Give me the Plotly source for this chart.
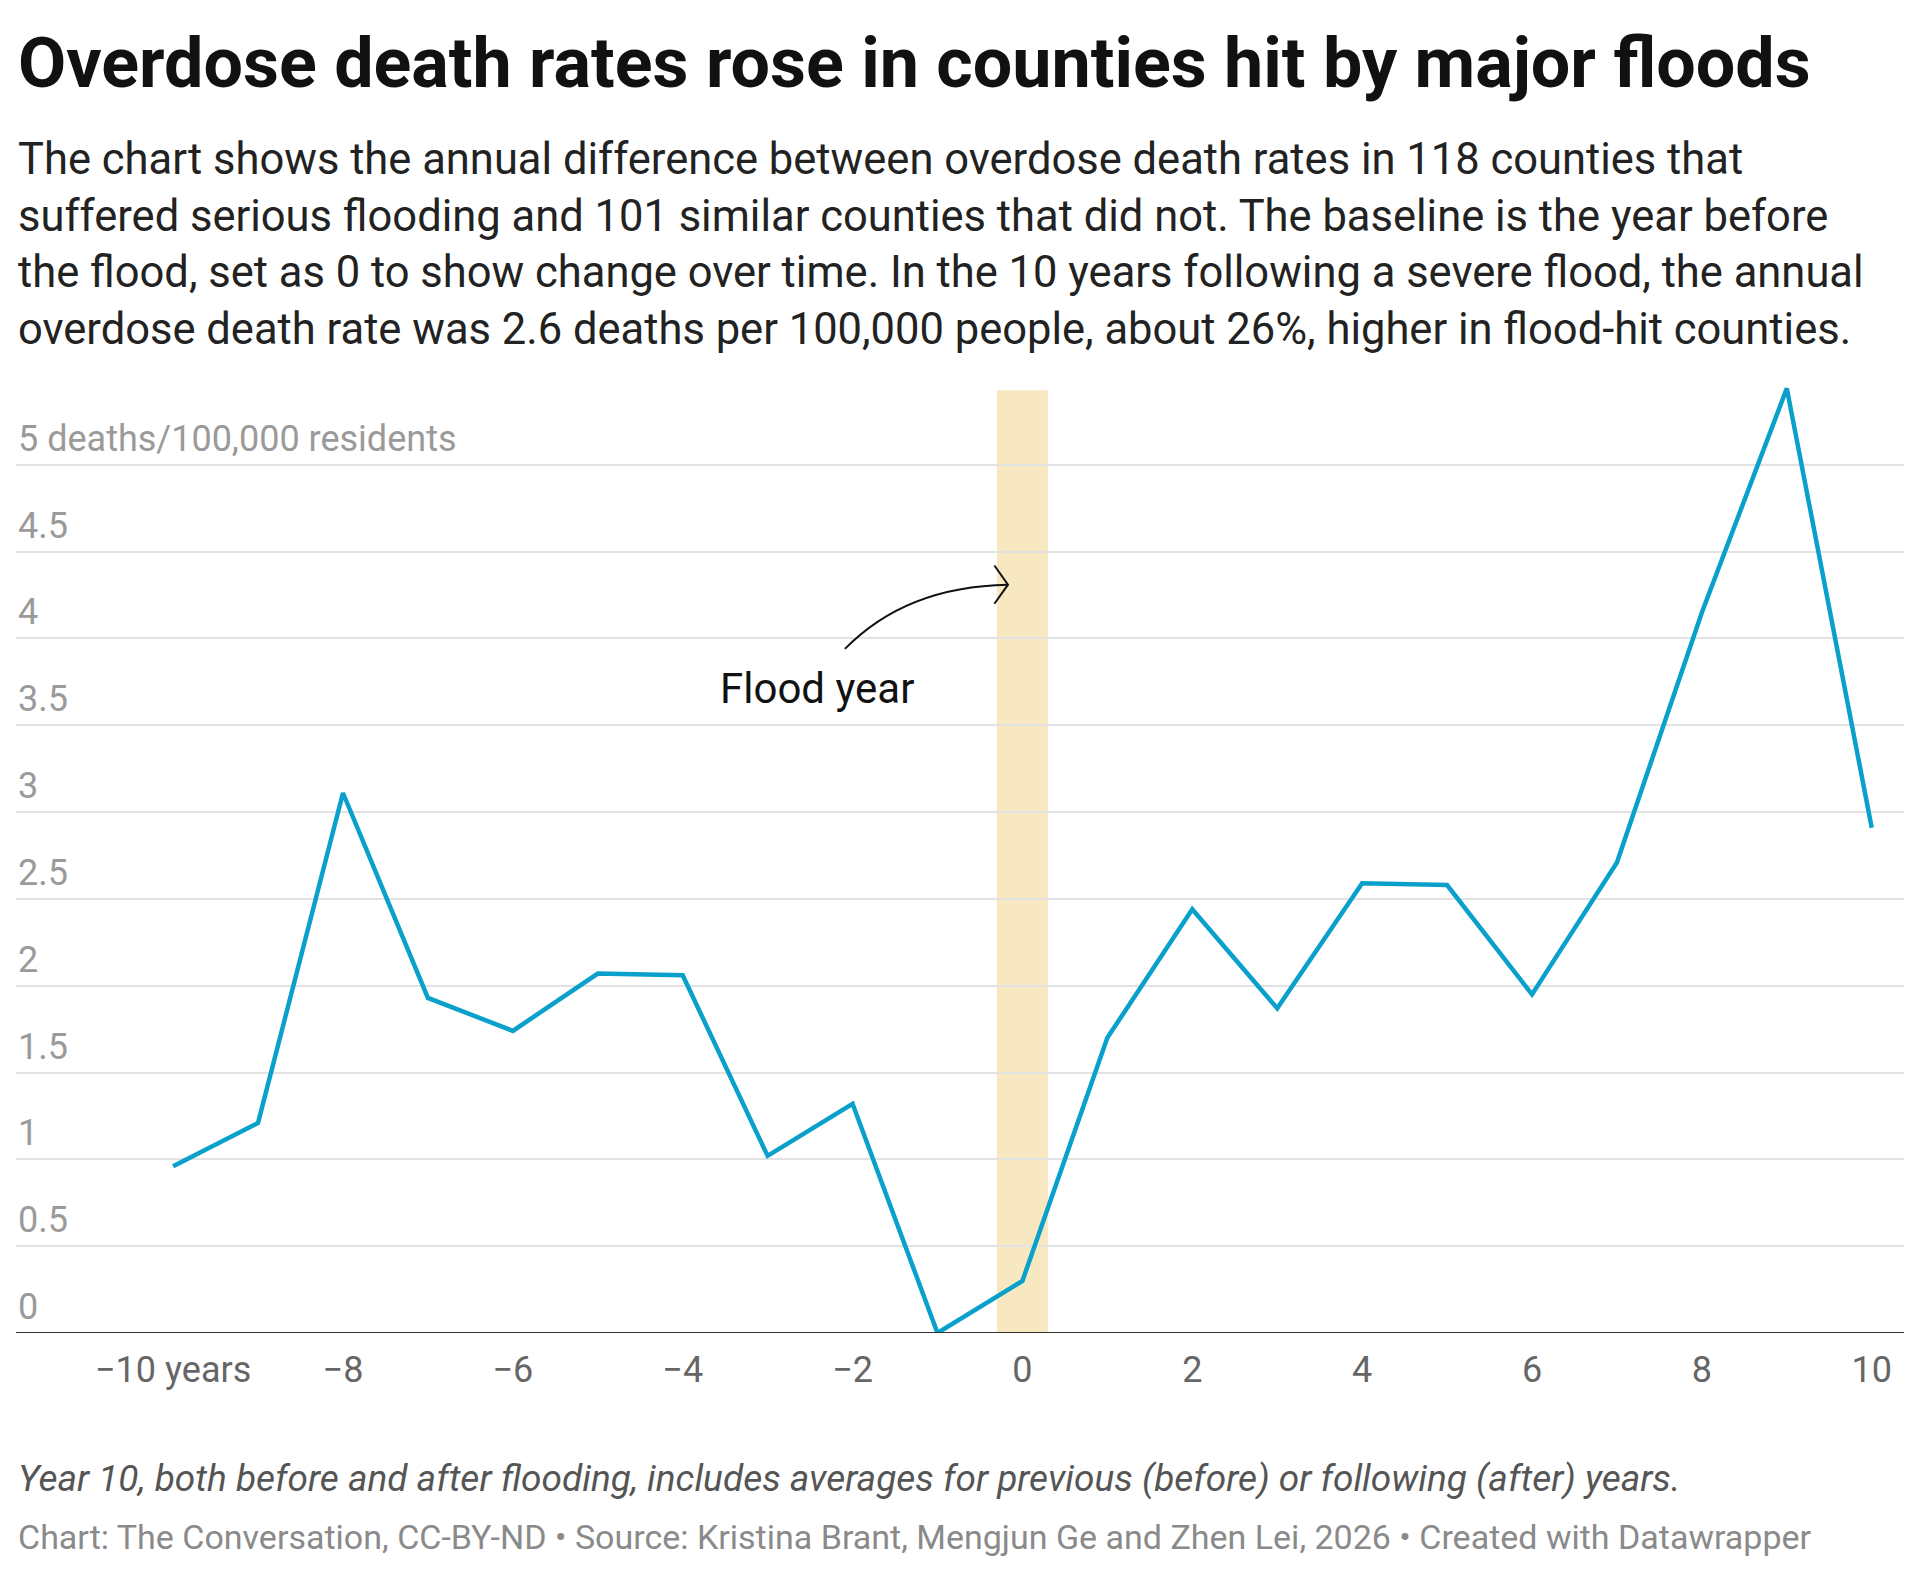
import plotly.graph_objects as go

years = list(range(-10, 11))
rate_diff = [0.96, 1.21, 3.11, 1.93, 1.74, 2.07, 2.06, 1.02, 1.32, 0.0, 0.30,
             1.70, 2.44, 1.87, 2.59, 2.58, 1.95, 2.71, 4.15, 5.44, 2.91]
y_ticks = [0, 0.5, 1, 1.5, 2, 2.5, 3, 3.5, 4, 4.5, 5]
y_tick_text = ["0", "0.5", "1", "1.5", "2", "2.5", "3", "3.5", "4", "4.5", "5 deaths/100,000 residents"]
x_ticks = [-10, -8, -6, -4, -2, 0, 2, 4, 6, 8, 10]
x_tick_text = ["\u221210 years", "\u22128", "\u22126", "\u22124", "\u22122", "0", "2", "4", "6", "8", "10"]

FONT = "Roboto"
GREY = "#9a9a9a"
TOP = 370

fig = go.Figure()

# Flood year band
fig.add_shape(type="rect", x0=-0.3, x1=0.3, y0=0, y1=5.43, xref="x", yref="y",
              fillcolor="#f8e8c1", line_width=0, layer="below")

fig.add_trace(go.Scatter(x=years, y=rate_diff, mode="lines",
                         line=dict(color="#0aa0cc", width=4.5), hoverinfo="skip"))

# zero line
fig.add_shape(type="line", x0=0, x1=1, xref="paper", y0=0, y1=0, yref="y",
              line=dict(color="#333333", width=2))

# y labels sit above their gridlines
for v, t in zip(y_ticks, y_tick_text):
    fig.add_annotation(x=0, xref="paper", y=v, yref="y", text=t, showarrow=False,
                       xanchor="left", yanchor="bottom", yshift=3,
                       font=dict(family=FONT, size=36, color=GREY))

# curved arrow to the band
fig.add_shape(type="path", path="M -2.09,3.94 Q -1.37,4.30 -0.17,4.31",
              line=dict(color="#111111", width=2))
fig.add_shape(type="path", path="M -0.33,4.42 L -0.17,4.31 L -0.33,4.20",
              line=dict(color="#111111", width=2))
fig.add_annotation(x=-2.42, y=3.71, text="Flood year", showarrow=False,
                   font=dict(family=FONT, size=42, color="#111111"))

fig.update_layout(
    width=1920, height=1577,
    margin=dict(l=8, r=24, t=TOP, b=252),
    paper_bgcolor="white", plot_bgcolor="white",
    showlegend=False,
    font=dict(family=FONT),
    xaxis=dict(range=[-11.85, 10.38], tickvals=x_ticks, ticktext=x_tick_text,
               showgrid=False, zeroline=False, showline=False, ticks="",
               tickfont=dict(family=FONT, size=36, color="#666666"), ticklabelstandoff=12),
    yaxis=dict(range=[0, 5.5], tickvals=y_ticks[1:], showticklabels=False,
               gridcolor="#e2e2e2", gridwidth=2, zeroline=False, showline=False),
)

subtitle = ("The chart shows the annual difference between overdose death rates in 118 counties that<br>"
            "suffered serious flooding and 101 similar counties that did not. The baseline is the year before<br>"
            "the flood, set as 0 to show change over time. In the 10 years following a severe flood, the annual<br>"
            "overdose death rate was 2.6 deaths per 100,000 people, about 26%, higher in flood-hit counties.")

fig.add_annotation(x=0, y=1, xref="paper", yref="paper", xanchor="left", yanchor="top",
                   text="<b>Overdose death rates rose in counties hit by major floods</b>",
                   showarrow=False, yshift=TOP - 12,
                   font=dict(family=FONT, size=70, color="#111111"))
fig.add_annotation(x=0, y=1, xref="paper", yref="paper", xanchor="left", yanchor="top",
                   text=subtitle, showarrow=False, align="left", yshift=TOP - 124,
                   font=dict(family=FONT, size=43.5, color="#222222"))
fig.add_annotation(x=0, y=0, xref="paper", yref="paper", xanchor="left", yanchor="top",
                   text="<i>Year 10, both before and after flooding, includes averages for previous (before) or following (after) years.</i>",
                   showarrow=False, yshift=-122,
                   font=dict(family=FONT, size=37, color="#555555"))
fig.add_annotation(x=0, y=0, xref="paper", yref="paper", xanchor="left", yanchor="top",
                   text="Chart: The Conversation, CC-BY-ND \u2022 Source: Kristina Brant, Mengjun Ge and Zhen Lei, 2026 \u2022 Created with Datawrapper",
                   showarrow=False, yshift=-182,
                   font=dict(family=FONT, size=34, color="#8a8a8a"))

fig.write_html("out.html")
